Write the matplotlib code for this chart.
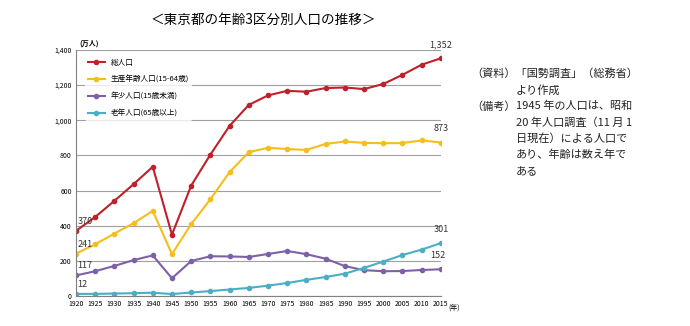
import numpy as np
import matplotlib.pyplot as plt

plt.rcParams['font.family'] = ['Noto Sans CJK JP', 'DejaVu Sans']

years = [1920, 1925, 1930, 1935, 1940, 1945, 1950, 1955, 1960, 1965,
         1970, 1975, 1980, 1985, 1990, 1995, 2000, 2005, 2010, 2015]
total = [370, 449, 541, 636, 735, 349, 628, 804, 968, 1087,
         1141, 1167, 1162, 1183, 1186, 1177, 1206, 1258, 1316, 1352]
working = [241, 294, 355, 414, 484, 238, 409, 550, 705, 818,
           843, 836, 831, 865, 879, 871, 869, 870, 885, 873]
young = [117, 141, 171, 204, 231, 101, 199, 226, 225, 222,
         239, 256, 238, 212, 170, 147, 141, 142, 148, 152]
old = [12, 12, 14, 16, 19, 11, 20, 28, 37, 46,
       59, 74, 92, 108, 127, 160, 196, 233, 264, 301]

series = [
    ('総人口', total, '#C0202A'),
    ('生産年齢人口(15-64歳)', working, '#F5BE1A'),
    ('年少人口(15歳未満)', young, '#7E60A6'),
    ('老年人口(65歳以上)', old, '#4AAFC4'),
]

fig = plt.figure(figsize=(6.9, 3.26), dpi=100)
ax = fig.add_axes([0.110, 0.092, 0.529, 0.755])

for name, vals, col in series:
    ax.plot(years, vals, color=col, lw=1.5, marker='o', ms=3, label=name)

ax.set_xlim(1920, 2015)
ax.set_ylim(0, 1400)
ax.set_xticks(years)
ax.set_xticklabels([str(y) for y in years], fontsize=5)
ax.set_yticks(range(0, 1401, 200))
ax.set_yticklabels(['0', '200', '400', '600', '800', '1,000', '1,200', '1,400'], fontsize=5)
ax.grid(axis='y', color='#A0A0A0', lw=0.8)
ax.set_axisbelow(True)
for s in ['top', 'right']:
    ax.spines[s].set_visible(False)
ax.spines['left'].set_color('#808080')
ax.spines['bottom'].set_color('#808080')
ax.tick_params(length=0, pad=3)

leg = ax.legend(loc='upper left', bbox_to_anchor=(0.025, 0.975), frameon=True,
                fontsize=5.5, handlelength=2.2, labelspacing=1.15, borderaxespad=0)
leg.get_frame().set_facecolor('white')
leg.get_frame().set_edgecolor('none')

# end labels
ax.annotate('1,352', (2015, total[-1]), xytext=(0, 8), textcoords='offset points',
            ha='center', fontsize=6.5, color='#333333')
ax.annotate('873', (2015, working[-1]), xytext=(0, 8), textcoords='offset points',
            ha='center', fontsize=6.5, color='#333333')
ax.annotate('301', (2015, old[-1]), xytext=(0, 8), textcoords='offset points',
            ha='center', fontsize=6.5, color='#333333')
ax.annotate('152', (2015, young[-1]), xytext=(-2, 8), textcoords='offset points',
            ha='center', fontsize=6.5, color='#333333')
for vals in [total, working, young, old]:
    ax.annotate(str(vals[0]), (1920, vals[0]), xytext=(1, 5), textcoords='offset points',
                ha='left', fontsize=6.5, color='#333333')

fig.text(0.381, 0.94, '＜東京都の年齢3区分別人口の推移＞', ha='center', va='center',
         fontsize=9.8)
fig.text(0.115, 0.868, '(万人)', fontsize=5, fontweight='bold', ha='left', va='center')
fig.text(0.650, 0.055, '(年)', fontsize=5, ha='left', va='center')

notes = [
    (0.683, '（資料）「国勢調査」（総務省）'),
    (0.748, 'より作成'),
    (0.683, '（備考）'),
    (0.748, '20 年人口調査（11 月 1'),
    (0.748, '日現在）による人口で'),
    (0.748, 'あり、年齢は数え年で'),
    (0.748, 'ある'),
]
y0 = 0.773
for i, (x, t) in enumerate(notes):
    fig.text(x, y0 - i * 0.0495, t, fontsize=8, ha='left', va='center', color='#222222')
fig.text(0.748, y0 - 2 * 0.0495, '1945 年の人口は、昭和', fontsize=8, ha='left',
         va='center', color='#222222')

fig.savefig('out.png', dpi=100)
